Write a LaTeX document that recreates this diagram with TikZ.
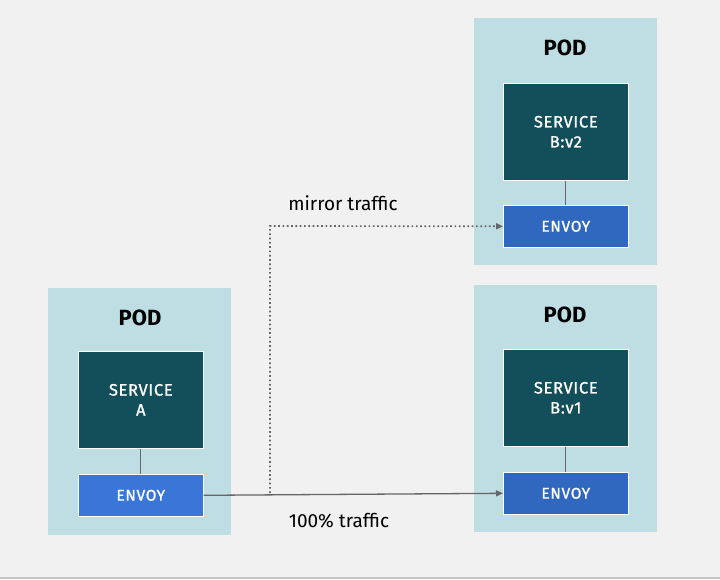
\documentclass[tikz,border=0pt]{standalone}
\usepackage{fontspec}
\setmainfont{Fira Sans}
\newfontfamily\medfont{Fira Sans}[FakeBold=1.2]
\usetikzlibrary{arrows.meta}
\definecolor{bg}{HTML}{F1F1F1}
\definecolor{podc}{HTML}{BFDEE4}
\definecolor{svcc}{HTML}{134E5B}
\definecolor{envA}{HTML}{3A76D8}
\definecolor{envB}{HTML}{3067BF}
\definecolor{linec}{HTML}{666666}
\tikzset{
  pod/.style={fill=podc, draw=none, minimum width=183pt, minimum height=247pt, anchor=north west, inner sep=0pt},
  podlabel/.style={font=\bfseries\fontsize{22}{26}\selectfont, text=black},
  svc/.style={fill=svcc, draw=white, line width=0.6pt, minimum width=125pt, minimum height=97pt, anchor=north west, inner sep=0pt, text=white, align=center, font=\medfont\fontsize{16.5}{20}\selectfont\addfontfeature{LetterSpace=4}},
  envoy/.style={draw=white, line width=0.6pt, minimum width=125pt, minimum height=42pt, anchor=north west, inner sep=0pt, text=white, font=\medfont\fontsize{15.5}{18}\selectfont\addfontfeature{LetterSpace=4}},
  link/.style={draw=linec, line width=1.3pt},
  flow/.style={draw=linec, line width=1.3pt, -{Triangle[length=7pt,width=6pt]}},
  mirror/.style={draw=linec, line width=1.7pt, dash pattern=on 1.7pt off 2.6pt, -{Triangle[length=7pt,width=6pt]}},
  lab/.style={font=\fontsize{19}{22}\selectfont, text=black}
}
\begin{document}
\begin{tikzpicture}[x=1pt,y=-1pt]
\fill[bg] (0,0) rectangle (720,579);
\useasboundingbox (0,0) rectangle (720,579);
\draw[draw=black!22, line width=1.5pt] (0,578) -- (720,578);
% left pod
\node[pod] (podA) at (48,288) {};
\node[podlabel] (podAl) at (140,318) {POD};
\node[svc] (svcA) at (78,351) {SERVICE\\A};
\node[envoy, fill=envA] (envoyA) at (78,474) {ENVOY};
% top right pod
\node[pod] (podB2) at (474,18) {};
\node[podlabel] (podB2l) at (565,48) {POD};
\node[svc] (svcB2) at (503,83) {SERVICE\\B:v2};
\node[envoy, fill=envB] (envoyB2) at (503,205) {ENVOY};
% bottom right pod
\node[pod] (podB1) at (474,285) {};
\node[podlabel] (podB1l) at (565,315) {POD};
\node[svc] (svcB1) at (503,349) {SERVICE\\B:v1};
\node[envoy, fill=envB] (envoyB1) at (503,472) {ENVOY};
% internal links
\draw[link] (svcA.south) -- (envoyA.north);
\draw[link] (svcB2.south) -- (envoyB2.north);
\draw[link] (svcB1.south) -- (envoyB1.north);
% traffic
\coordinate (split) at (270,493);
\coordinate (corner) at (270,226);
\draw[flow] (envoyA.east) -- (envoyB1.west);
\draw[mirror] (split) -- (corner) -- (envoyB2.west);
\node[lab] (mlab) at (343,203) {mirror traffic};
\node[lab] (tlab) at (339,521) {100\% traffic};
\end{tikzpicture}
\end{document}
